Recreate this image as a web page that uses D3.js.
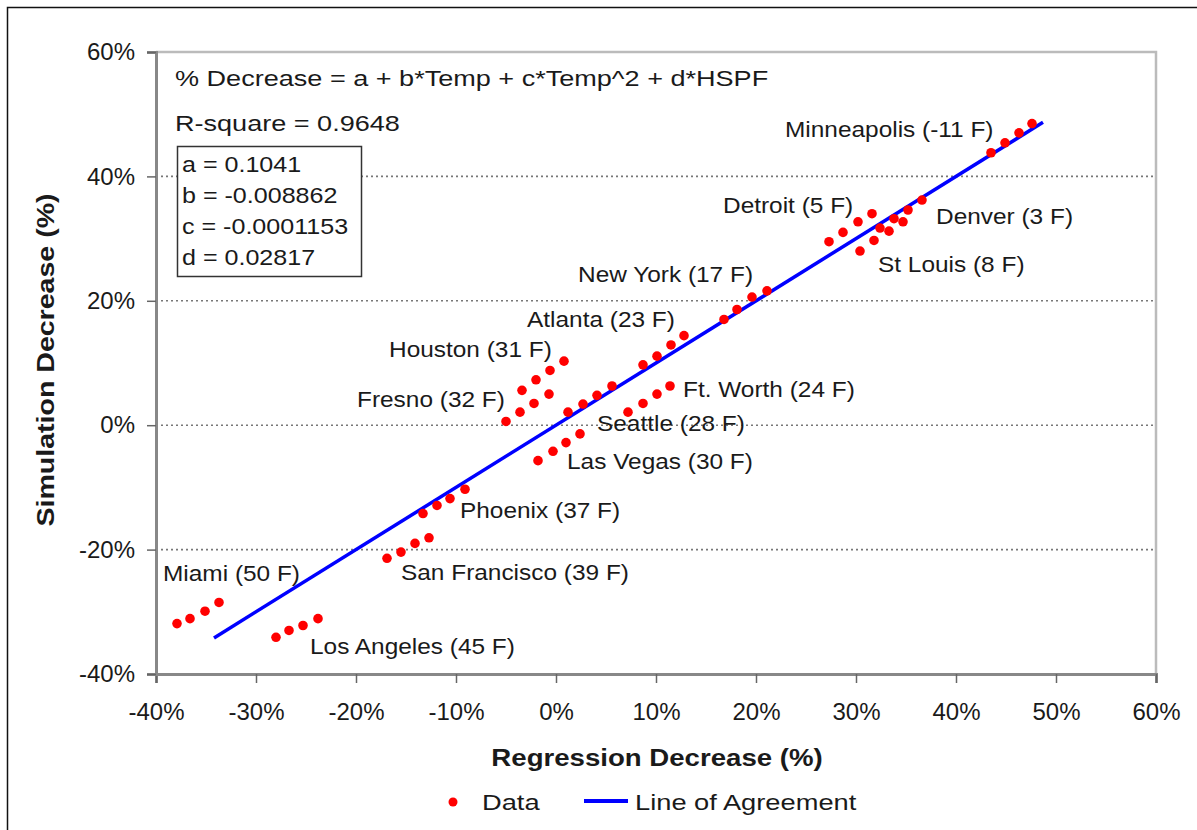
<!DOCTYPE html>
<html>
<head>
<meta charset="utf-8">
<script src="https://cdn.jsdelivr.net/npm/d3@7"></script>
<style>
  body { margin: 0; background: #fff; }
  svg text { font-family: "Liberation Sans", Arial, sans-serif; fill: #1a1a1a; }
</style>
</head>
<body>
<svg id="chart" width="1197" height="830"></svg>
<script>
// scatter of regression vs simulation decrease, 4 points per city

// city names, one per group of 4 points
var cities = ["Miami (50 F)", "Los Angeles (45 F)", "San Francisco (39 F)", "Phoenix (37 F)",
  "Las Vegas (30 F)", "Fresno (32 F)", "Houston (31 F)", "Seattle (28 F)", "Ft. Worth (24 F)",
  "Atlanta (23 F)", "New York (17 F)", "Detroit (5 F)", "St Louis (8 F)", "Denver (3 F)",
  "Minneapolis (-11 F)"];

// regression decrease (%), x values
var regression = [
  -37.9, -36.6, -35.1, -33.7,
  -28.0, -26.7, -25.3, -23.8,
  -16.9, -15.5, -14.1, -12.7,
  -13.3, -11.9, -10.6, -9.1,
  -1.8, -0.3, 1.0, 2.4,
  -5.0, -3.6, -2.2, -0.7,
  -3.4, -2.0, -0.6, 0.8,
  1.2, 2.7, 4.1, 5.6,
  7.2, 8.7, 10.1, 11.4,
  8.7, 10.1, 11.5, 12.8,
  16.8, 18.1, 19.6, 21.1,
  27.3, 28.7, 30.2, 31.6,
  30.4, 31.8, 33.3, 34.7,
  32.4, 33.8, 35.2, 36.6,
  43.5, 44.9, 46.3, 47.6
];

// simulation decrease (%), y values
var simulation = [
  -31.9, -31.1, -29.9, -28.5,
  -34.1, -33.0, -32.2, -31.1,
  -21.4, -20.4, -19.0, -18.1,
  -14.2, -12.9, -11.8, -10.3,
  -5.7, -4.2, -2.8, -1.4,
  0.6, 2.1, 3.5, 5.0,
  5.6, 7.3, 8.8, 10.3,
  2.1, 3.4, 4.8, 6.3,
  2.1, 3.5, 5.0, 6.3,
  9.7, 11.1, 12.9, 14.4,
  17.0, 18.6, 20.6, 21.6,
  29.5, 31.0, 32.7, 34.0,
  28.0, 29.7, 31.2, 32.7,
  31.7, 33.2, 34.6, 36.2,
  43.8, 45.4, 47.0, 48.5
];

// where each city label sits (left edge, middle), in data units
var labelX = [-39.3, -24.6, -15.5, -9.6, 1.1, -19.9, -16.7, 4.1, 12.7, -2.9, 2.2, 16.7, 32.2, 38.0, 22.9];
var labelY = [-23.8, -35.5, -23.6, -13.7, -5.8, 4.1, 12.2, 0.35, 5.7, 17.0, 24.2, 35.4, 25.9, 33.6, 47.5];

// line of agreement ends
var agreement = [-34.2, 48.7];

// axis ticks
var xTicks = [-40, -30, -20, -10, 0, 10, 20, 30, 40, 50, 60];
var yTicks = [-40, -20, 0, 20, 40, 60];
var gridTicks = [-20, 0, 20, 40];

// regression text
var equation = "% Decrease = a + b*Temp + c*Temp^2 + d*HSPF";
var rSquare = "R-square = 0.9648";
var coefs = ["a = 0.1041", "b = -0.008862", "c = -0.0001153", "d = 0.02817"];

var svg = d3.select("#chart");

var x = d3.scaleLinear().domain([-40, 60]).range([156, 1156]);
var y = d3.scaleLinear().domain([-40, 60]).range([674, 52]);

function pct(d) { return d + "%"; }

// text helper: the picture is a bit wider than tall, so stretch text sideways
function addText(px, py, str, size, stretch, opts) {
  opts = opts || {};
  var t = svg.append("text")
    .attr("transform", "translate(" + px + "," + py + ")" + (opts.rotate ? " rotate(" + opts.rotate + ")" : "") + " scale(" + stretch + ",1)")
    .attr("font-size", size)
    .attr("dominant-baseline", "central")
    .text(str);
  if (opts.bold) t.attr("font-weight", "bold");
  if (opts.anchor) t.attr("text-anchor", opts.anchor);
  return t;
}

// outer frame (left + top)
svg.append("path").attr("d", "M7.5,830 V7.5 H1197").attr("fill", "none").attr("stroke", "#111").attr("stroke-width", 1.5);

// plot frame top/right
svg.append("path")
  .attr("d", "M" + x(-40) + "," + y(60) + " H" + x(60) + " V" + y(-40))
  .attr("fill", "none").attr("stroke", "#bbb").attr("stroke-width", 2.5);

// dotted gridlines
svg.append("g").selectAll("line").data(gridTicks).enter().append("line")
  .attr("x1", x(-40)).attr("x2", x(60))
  .attr("y1", function(d) { return y(d); }).attr("y2", function(d) { return y(d); })
  .attr("stroke", "#777").attr("stroke-width", 1.6).attr("stroke-dasharray", "2,3");

// axes
var gx = svg.append("g").attr("transform", "translate(0," + y(-40) + ")")
  .call(d3.axisBottom(x).tickValues(xTicks).tickFormat(pct).tickSize(9).tickPadding(20));
var gy = svg.append("g").attr("transform", "translate(" + x(-40) + ",0)")
  .call(d3.axisLeft(y).tickValues(yTicks).tickFormat(pct).tickSize(9).tickPadding(12));
[gx, gy].forEach(function(g) {
  g.select(".domain").attr("stroke", "#888").attr("stroke-width", 3);
  g.selectAll(".tick line").attr("stroke", "#666").attr("stroke-width", 1.5);
  g.selectAll(".tick text").attr("font-size", 24).attr("fill", "#1a1a1a")
    .attr("font-family", "Liberation Sans, Arial, sans-serif");
});

// line of agreement
svg.append("line")
  .attr("x1", x(agreement[0])).attr("y1", y(agreement[0]))
  .attr("x2", x(agreement[1])).attr("y2", y(agreement[1]))
  .attr("stroke", "#0000ff").attr("stroke-width", 3.5);

// data points
svg.append("g").selectAll("circle").data(regression).enter().append("circle")
  .attr("cx", function(d) { return x(d); })
  .attr("cy", function(d, i) { return y(simulation[i]); })
  .attr("r", 4.8)
  .attr("fill", "#ff0000");

// city labels
cities.forEach(function(c, i) {
  addText(x(labelX[i]), y(labelY[i]), c, 22, 1.11);
});

// equation + coefficients box
addText(175, 78, equation, 22, 1.23);
addText(175, 123, rSquare, 22, 1.23);
svg.append("rect").attr("x", 177.5).attr("y", 146.5).attr("width", 184).attr("height", 130)
  .attr("fill", "#fff").attr("stroke", "#333").attr("stroke-width", 1.5);
coefs.forEach(function(c, i) {
  addText(182, 165 + i * 31, c, 22, 1.14);
});

// axis titles
addText(657, 758, "Regression Decrease (%)", 24, 1.15, {bold: true, anchor: "middle"});
addText(46, 360, "Simulation Decrease (%)", 24, 1.19, {bold: true, anchor: "middle", rotate: -90});

// legend
svg.append("circle").attr("cx", 453).attr("cy", 802).attr("r", 4.5).attr("fill", "#ff0000");
addText(482, 802, "Data", 22, 1.24);
svg.append("line").attr("x1", 584).attr("x2", 628).attr("y1", 801).attr("y2", 801)
  .attr("stroke", "#0000ff").attr("stroke-width", 4);
addText(635, 802, "Line of Agreement", 22, 1.24);
</script>
</body>
</html>
